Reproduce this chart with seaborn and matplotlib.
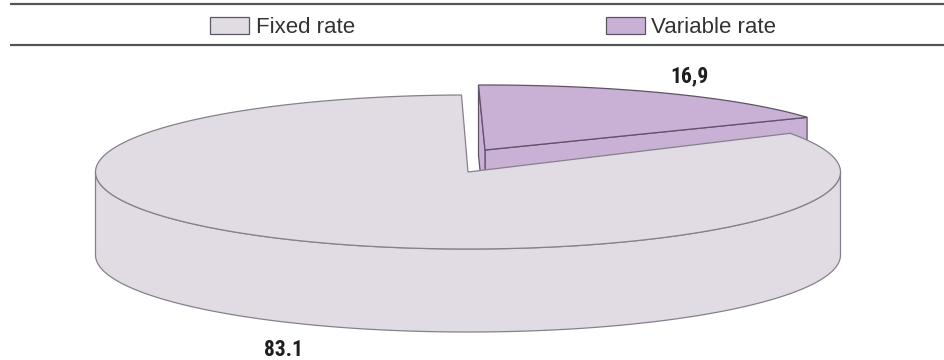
import numpy as np
import matplotlib
matplotlib.use("Agg")
import matplotlib.pyplot as plt
from matplotlib import font_manager
from matplotlib.patches import Polygon, Patch
import seaborn as sns

# ---- data ----
categories = ["Fixed rate", "Variable rate"]
value_labels = ["83.1", "16,9"]
shares = [float(s.replace(",", ".")) for s in value_labels]
colors = ["#E1DCE4", "#C9B0D5"]
edge_colors = ["#85808b", "#5f5268"]

# ---- style ----
sns.set_theme(style="white")
plt.rcParams["font.family"] = ["Liberation Sans", "DejaVu Sans"]

installed = {f.name for f in font_manager.fontManager.ttflist}
narrow_family = next((n for n in ["Liberation Sans Narrow", "Roboto Condensed",
                                  "Open Sans Condensed", "Arial Narrow"]
                      if n in installed), "DejaVu Sans")

fig = plt.figure(figsize=(9.44, 3.6), dpi=100)
ax = fig.add_axes([0, 0, 1, 1])
ax.set_xlim(0, 944)
ax.set_ylim(360, 0)
ax.axis("off")

# ---- 3-D pie layout (pixel units) ----
cx, cy = 468.0, 172.0          # centre of the top face
rx, ry = 372.5, 77.0           # ellipse half-axes of the top face
depth = 83.0                   # thickness of the disc
start_deg = 91.0               # first wedge starts here, runs counter-clockwise
explode = [(0.0, 0.0, 1.0), (17.0, -22.0, 65.0 / 77.0)]   # dx, dy, vertical squash
label_nudge = [(-2, -28), (21, 17)]                       # text offset from rim, px (y up)


def rim(c, r, deg, drop=0.0):
    t = np.deg2rad(deg)
    return np.array([c[0] + r[0] * np.cos(t), c[1] - r[1] * np.sin(t) + drop])


def arc(c, r, a0, a1, drop=0.0, n=200):
    ts = np.linspace(a0, a1, n)
    return np.array([rim(c, r, t, drop) for t in ts])


total = sum(shares)
bounds = []
a = start_deg
for s in shares:
    b = a + 360.0 * s / total
    bounds.append((a, b))
    a = b

wedges = []
for i, (a0, a1) in enumerate(bounds):
    dx, dy, sq = explode[i]
    c = (cx + dx, cy + dy)
    r = (rx, ry * sq)
    d = depth * sq
    wedges.append(dict(c=c, r=r, d=d, a0=a0, a1=a1))

lw = 0.9
# the pulled-out variable-rate wedge sits behind, draw it first
order = [1, 0]
for i in order:
    w = wedges[i]
    c, r, d, a0, a1 = w["c"], w["r"], w["d"], w["a0"], w["a1"]
    fc, ec = colors[i], edge_colors[i]
    apex = np.array(c)
    apex_lo = apex + [0, d]

    # curved outer side, only the front half (180..360 deg) faces the viewer
    lo_a, hi_a = max(a0, 180.0), min(a1, 360.0)
    if hi_a > lo_a:
        top = arc(c, r, lo_a, hi_a)
        bot = arc(c, r, hi_a, lo_a, drop=d)
        ax.add_patch(Polygon(np.vstack([top, bot]), closed=True,
                             facecolor=fc, edgecolor=ec, lw=lw, zorder=2))

    # flat cut faces of the wedge when they turn towards the viewer
    for ang, sign in ((a0, -1), (a1, 1)):
        normal = np.deg2rad(ang + sign * 90.0)
        if np.sin(normal) < 0:
            p = rim(c, r, ang)
            quad = np.array([apex, p, p + [0, d], apex_lo])
            ax.add_patch(Polygon(quad, closed=True, facecolor=fc,
                                 edgecolor=ec, lw=lw, zorder=2))

    # top face
    top_face = np.vstack([apex, arc(c, r, a0, a1), apex])
    ax.add_patch(Polygon(top_face, closed=True, facecolor=fc,
                         edgecolor=ec, lw=lw, zorder=3))

# value labels at the middle of each wedge
for i, w in enumerate(wedges):
    mid = 0.5 * (w["a0"] + w["a1"])
    drop = w["d"] if np.sin(np.deg2rad(mid)) < 0 else 0.0
    anchor = rim(w["c"], w["r"], mid, drop)
    ax.annotate(value_labels[i], xy=anchor, xytext=label_nudge[i],
                textcoords="offset pixels", ha="center", va="center",
                fontsize=15.5, fontweight="bold", color="#1e1e1e",
                family=[narrow_family, "DejaVu Sans"],
                fontstretch="condensed", zorder=5)

# legend band between two rules
ax.hlines([4, 45], 10, 944, colors="#555555", lw=1.6, zorder=1)
handles = [Patch(facecolor=colors[i], edgecolor="#5a5560", lw=0.9,
                 label=categories[i]) for i in range(len(categories))]
leg = ax.legend(handles=handles, ncol=2, frameon=False, loc="upper left",
                bbox_to_anchor=(210 / 944, 1 - 16.5 / 360), borderpad=0,
                borderaxespad=0, handlelength=1.75, handleheight=0.85,
                handletextpad=0.3, columnspacing=11.3, fontsize=16)
for t in leg.get_texts():
    t.set_color("#333333")

fig.savefig("out.png", dpi=100)
